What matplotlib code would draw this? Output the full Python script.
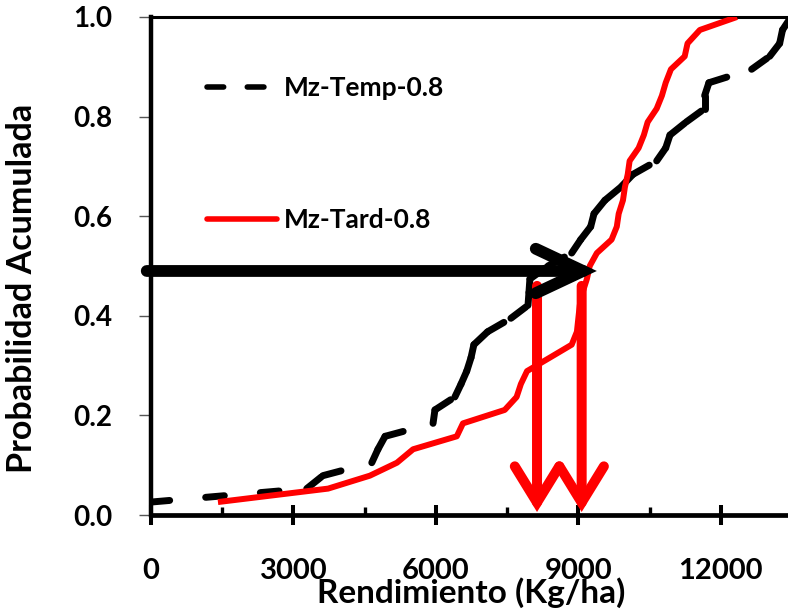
import matplotlib
matplotlib.use("Agg")
import matplotlib.pyplot as plt
import numpy as np
from matplotlib.collections import LineCollection
from matplotlib.lines import Line2D
from matplotlib.ticker import MultipleLocator

plt.rcParams['font.family'] = ['Lato', 'DejaVu Sans']
plt.rcParams['font.weight'] = 'bold'
plt.rcParams['axes.labelweight'] = 'bold'
plt.rcParams['lines.scale_dashes'] = False

# cumulative probability levels
prob = [0.026, 0.053, 0.079, 0.105, 0.132, 0.158, 0.184, 0.211, 0.237, 0.263,
        0.289, 0.316, 0.342, 0.368, 0.395, 0.421, 0.447, 0.474, 0.500, 0.526,
        0.553, 0.579, 0.605, 0.632, 0.658, 0.684, 0.711, 0.737, 0.763, 0.789,
        0.816, 0.842, 0.868, 0.895, 0.921, 0.947, 0.974, 1.000]

# yields (kg/ha)
temp_yield = [0, 3280, 3620, 4650, 4780, 4930, 5940, 5980, 6400, 6530,
              6650, 6740, 6800, 7090, 7580, 7940, 7960, 7980, 8360, 8860,
              9050, 9260, 9330, 9560, 9890, 10150, 10650, 10840, 10930, 11270,
              11660, 11660, 11750, 12650, 13030, 13240, 13300, 13480]
tard_yield = [1410, 3730, 4610, 5180, 5520, 6440, 6570, 7450, 7700, 7790,
              7920, 8400, 8860, 8970, 9000, 9030, 9090, 9180, 9240, 9390,
              9700, 9810, 9850, 9940, 9980, 10040, 10080, 10270, 10380, 10460,
              10650, 10760, 10840, 10950, 11240, 11300, 11560, 12340]

labels = ['Mz-Temp-0.8', 'Mz-Tard-0.8']

# reading guides
p_level = 0.49
p_drop = 0.46
drop_yields = [8130, 9070]

fig = plt.figure(figsize=(7.88, 6.16), dpi=100)
ax = fig.add_axes([151/788, 101/616, 641/788, 498/616])

# black series: dash pattern restarts at every point (as in the original)
pts = np.column_stack([temp_yield, prob])
segs = np.stack([pts[:-1], pts[1:]], axis=1)
lc = LineCollection(segs, colors='black', linewidths=5,
                    linestyles=[(0, (13.5, 26))], capstyle='round',
                    joinstyle='round', zorder=3)
ax.add_collection(lc)

ax.plot(tard_yield, prob, color='#ff0000', lw=4.3, solid_joinstyle='round',
        solid_capstyle='butt', zorder=4)

# arrows
ax.annotate('', xy=(9390, p_level), xytext=(-90, p_level),
            arrowprops=dict(arrowstyle='->,head_length=3.4,head_width=1.6',
                            lw=8.5, color='black', shrinkA=0, shrinkB=0,
                            mutation_scale=10, capstyle='round',
                            joinstyle='miter'),
            annotation_clip=False, zorder=6)
for xv in drop_yields:
    ax.annotate('', xy=(xv, 0.006), xytext=(xv, p_drop),
                arrowprops=dict(arrowstyle='->,head_length=2.6,head_width=1.6',
                                lw=7.2, color='#ff0000', shrinkA=0, shrinkB=0,
                                mutation_scale=10, capstyle='round',
                                joinstyle='miter'),
                annotation_clip=False, zorder=5)

ax.set_xlim(0, 13500)
ax.set_ylim(0, 1.0)

ax.xaxis.set_major_locator(MultipleLocator(3000))
ax.xaxis.set_minor_locator(MultipleLocator(1500))
ax.yaxis.set_major_locator(MultipleLocator(0.2))
ax.yaxis.set_major_formatter(plt.FuncFormatter(lambda v, p: f'{v:.1f}'))

ax.tick_params(axis='x', which='major', direction='inout', length=14,
               width=2.9, pad=24, labelsize=21)
ax.tick_params(axis='x', which='minor', direction='in', length=6, width=2.4)
ax.tick_params(axis='y', which='major', direction='out', length=9,
               width=1.0, color='#555555', pad=19, labelsize=20)

ax.spines['left'].set_linewidth(3.2)
ax.spines['bottom'].set_linewidth(3.4)
ax.spines['top'].set_linewidth(2.2)
ax.spines['right'].set_visible(False)

ax.set_xlabel('Rendimiento (Kg/ha)', fontsize=24, labelpad=-5)
fig.text(22/788, 1 - 288/616, 'Probabilidad Acumulada', rotation=90,
         fontsize=24.5, ha='center', va='center', fontweight='bold')

handles = [Line2D([], [], color='black', lw=4, ls=(0, (12, 17)),
                  dash_capstyle='round'),
           Line2D([], [], color='#ff0000', lw=4, solid_capstyle='round')]
ax.legend(handles, labels, loc='upper left', bbox_to_anchor=(0.088, 0.882),
          frameon=False, fontsize=19, handlelength=2.65, handletextpad=0.25,
          labelspacing=4.1, borderpad=0, borderaxespad=0)

fig.savefig('out.png', dpi=100)
